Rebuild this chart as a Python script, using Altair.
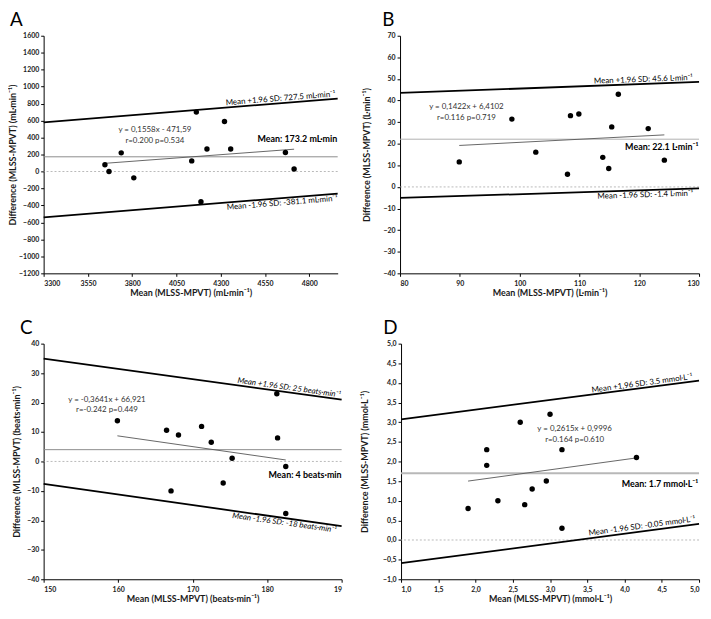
import altair as alt
import pandas as pd

FONT = "Lato"

# ---------------- Panel A : VO2 (mL·min-1) ----------------
A_mean = [3646, 3669, 3738, 3809, 4136, 4162, 4188, 4222, 4321, 4356, 4665, 4714]
A_diff = [80, 0, 220, -75, 125, 700, -355, 265, 590, 265, 225, 30]
A_loa_x = [3300, 4960]
A_upper = [580, 860]
A_lower = [-540, -260]
A_reg_x = [3646, 4714]
A_reg_y = [96.5, 262.9]
A_bias = 173.2
A_xticks = [3300, 3550, 3800, 4050, 4300, 4550, 4800]
A_yticks = list(range(-1200, 1601, 200))

# ---------------- Panel B : VE (L·min-1) ----------------
B_mean = [89.9, 98.7, 102.7, 108.0, 108.5, 109.9, 113.9, 114.9, 115.4, 116.5, 121.5, 124.2]
B_diff = [11.6, 31.4, 16.1, 5.9, 33.0, 33.8, 13.7, 8.5, 27.8, 42.9, 27.0, 12.4]
B_loa_x = [80, 130]
B_upper = [43.5, 48.6]
B_lower = [-5.1, -0.7]
B_reg_x = [89.9, 124.2]
B_reg_y = [19.2, 24.1]
B_bias = 22.1
B_xticks = [80, 90, 100, 110, 120, 130]
B_yticks = list(range(-40, 71, 10))

# ---------------- Panel C : HR (beats·min-1) ----------------
C_mean = [159.9, 166.5, 167.1, 168.1, 171.2, 172.5, 174.1, 175.3, 181.3, 181.4, 182.5, 182.5]
C_diff = [13.8, 10.6, -10.0, 9.0, 11.9, 6.5, -7.3, 1.1, 23.0, 8.0, -1.7, -17.7]
C_loa_x = [150, 190]
C_upper = [34.9, 21.0]
C_lower = [-7.6, -22.0]
C_reg_x = [159.9, 182.5]
C_reg_y = [8.7, 0.5]
C_bias = 4.0
C_xticks = [150, 160, 170, 180, 190]
C_yticks = list(range(-40, 41, 10))

# ---------------- Panel D : lactate (mmol·L-1) ----------------
D_mean = [1.90, 2.15, 2.15, 2.30, 2.60, 2.66, 2.76, 2.95, 3.00, 3.16, 3.16, 4.16]
D_diff = [0.8, 2.3, 1.9, 1.0, 3.0, 0.9, 1.3, 1.5, 3.2, 2.3, 0.3, 2.1]
D_loa_x = [1.0, 5.0]
D_upper = [3.07, 4.06]
D_lower = [-0.59, 0.41]
D_reg_x = [1.9, 4.16]
D_reg_y = [1.50, 2.09]
D_bias = 1.7
D_xticks = [1.0, 1.5, 2.0, 2.5, 3.0, 3.5, 4.0, 4.5, 5.0]
D_yticks = [-1.0, -0.5, 0.0, 0.5, 1.0, 1.5, 2.0, 2.5, 3.0, 3.5, 4.0, 4.5, 5.0]

COMMA = "replace(format(datum.value, '.1f'), '.', ',')"
INT = "format(datum.value, 'd')"


def panel(letter, mean, diff, xdom, ydom, xticks, yticks, unit, loa_x, up, lo,
          reg_x, reg_y, bias, texts, w, h, ytx, ldx, loff,
          xlabel_expr=INT, ylabel_expr=INT, bias_color="#9a9a9a", bias_width=1.0):
    X = alt.X("m:Q", scale=alt.Scale(domain=xdom, nice=False, zero=False),
              axis=alt.Axis(values=xticks, title=f"Mean (MLSS-MPVT) ({unit})",
                            titlePadding=2, labelExpr=xlabel_expr))
    Y = alt.Y("d:Q", scale=alt.Scale(domain=ydom, nice=False, zero=False),
              axis=alt.Axis(values=yticks, title=f"Difference (MLSS-MPVT) ({unit})",
                            titleX=ytx, titleY=h / 2, titleAlign="center",
                            titleBaseline="bottom", titleAngle=270,
                            labelExpr=ylabel_expr))

    zero = alt.Chart(pd.DataFrame({"d": [0]})).mark_rule(
        color="#a8a8a8", strokeWidth=0.8, strokeDash=[2, 2]).encode(y=Y)
    mean_rule = alt.Chart(pd.DataFrame({"d": [bias]})).mark_rule(
        color=bias_color, strokeWidth=bias_width).encode(y=Y)
    reg = alt.Chart(pd.DataFrame({"m": reg_x, "d": reg_y})).mark_line(
        color="#555555", strokeWidth=0.9).encode(x=X, y=Y)
    loa = alt.Chart(pd.DataFrame({"m": loa_x + loa_x, "d": up + lo,
                                  "g": ["u", "u", "l", "l"]})).mark_line(
        color="black", strokeWidth=1.8).encode(x=X, y=Y, detail="g:N")
    pts = alt.Chart(pd.DataFrame({"m": mean, "d": diff})).mark_circle(
        size=30, color="black", opacity=1).encode(x=X, y=Y)

    layers = [zero, mean_rule, reg, loa, pts]
    for t in texts:
        kw = dict(align=t.get("align", "right"), baseline=t.get("baseline", "middle"),
                  fontSize=t.get("size", 8), font=FONT,
                  fontWeight=t.get("weight", "normal"),
                  fontStyle=t.get("style", "normal"),
                  color=t.get("color", "black"), dy=t.get("dy", 0))
        if t.get("angle") is not None:
            kw["angle"] = t["angle"]
        layers.append(alt.Chart(pd.DataFrame({"m": [t["x"]], "d": [t["y"]], "t": [t["text"]]}))
                      .mark_text(**kw).encode(x=X, y=Y, text="t:N"))
    return alt.layer(*layers).properties(
        width=w, height=h,
        title=alt.TitleParams(letter, anchor="start", frame="group", dx=ldx, offset=loff,
                              fontSize=19, font=FONT, fontWeight="normal", color="black"))


A = panel("A", A_mean, A_diff, [3300, 4960], [-1200, 1600], A_xticks, A_yticks, "mL·min⁻¹",
          A_loa_x, A_upper, A_lower, A_reg_x, A_reg_y, A_bias,
          [dict(x=4949, y=862, text="Mean +1.96 SD: 727.5 mL·min⁻¹", baseline="bottom", angle=355.4),
           dict(x=4958, y=-262, text="Mean -1.96 SD: -381.1 mL·min⁻¹", baseline="top", angle=355.3, dy=1),
           dict(x=4958, y=381, text="Mean: 173.2 mL·min", size=9, weight="bold"),
           dict(x=3928, y=489, text="y = 0,1558x - 471,59", align="center", color="#333333"),
           dict(x=3928, y=361, text="r=0.200 p=0.534", align="center", color="#333333")],
          w=297, h=240, ytx=-26, ldx=-34, loff=2, bias_color="#8c8c8c")

B = panel("B", B_mean, B_diff, [80, 130], [-40, 70], B_xticks, B_yticks, "L·min⁻¹",
          B_loa_x, B_upper, B_lower, B_reg_x, B_reg_y, B_bias,
          [dict(x=129.0, y=48.6, text="Mean +1.96 SD: 45.6 L·min⁻¹", baseline="bottom", angle=357.9),
           dict(x=129.0, y=-0.8, text="Mean -1.96 SD: -1.4 L·min⁻¹", baseline="top", angle=358.1, dy=1),
           dict(x=129.9, y=18.4, text="Mean: 22.1 L·min⁻¹", size=9, weight="bold"),
           dict(x=91.1, y=36.8, text="y = 0,1422x + 6,4102", align="center", color="#333333"),
           dict(x=91.1, y=31.8, text="r=0.116 p=0.719", align="center", color="#333333")],
          w=302, h=240, ytx=-29, ldx=-18, loff=2, bias_color="#b0b0b0")

C = panel("C", C_mean, C_diff, [150, 190], [-40, 40], C_xticks, C_yticks, "beats·min⁻¹",
          C_loa_x, C_upper, C_lower, C_reg_x, C_reg_y, C_bias,
          [dict(x=189.8, y=21.1, text="Mean +1.96 SD: 25 beats·min⁻¹", baseline="bottom", angle=8, style="italic"),
           dict(x=189.4, y=-21.8, text="Mean -1.96 SD: -18 beats·min⁻¹", baseline="top", angle=8, style="italic", dy=1),
           dict(x=190.0, y=-4.7, text="Mean: 4 beats·min", size=9, weight="bold"),
           dict(x=158.5, y=20.7, text="y = -0,3641x + 66,921", align="center", color="#333333"),
           dict(x=158.5, y=17.3, text="r=-0.242 p=0.449", align="center", color="#333333")],
          w=301, h=238, ytx=-22, ldx=-24, loff=2, bias_color="#8c8c8c",
          xlabel_expr="datum.value == 190 ? '19' : datum.label")

D = panel("D", D_mean, D_diff, [1.0, 5.0], [-1.0, 5.0], D_xticks, D_yticks, "mmol·L⁻¹",
          D_loa_x, D_upper, D_lower, D_reg_x, D_reg_y, D_bias,
          [dict(x=4.92, y=4.05, text="Mean +1,96 SD: 3.5 mmol·L⁻¹", baseline="bottom", angle=352.3),
           dict(x=4.96, y=0.40, text="Mean -1.96 SD: -0.05 mmol·L⁻¹", baseline="bottom", angle=352.4, dy=-1),
           dict(x=4.99, y=1.42, text="Mean: 1.7 mmol·L⁻¹", size=9, weight="bold"),
           dict(x=3.33, y=2.83, text="y = 0,2615x + 0,9996", align="center", color="#333333"),
           dict(x=3.33, y=2.55, text="r=0.164 p=0.610", align="center", color="#333333")],
          w=301, h=238, ytx=-32, ldx=-18, loff=2, bias_color="#b8b8b8", bias_width=2.2,
          xlabel_expr=COMMA, ylabel_expr=COMMA)

chart = alt.vconcat(
    alt.hconcat(A, B, spacing=21),
    alt.hconcat(C, D, spacing=14),
    spacing=22,
).properties(
    padding=0
).configure_view(
    stroke=None
).configure_axis(
    grid=False, domainColor="black", domainWidth=1, tickColor="black", tickSize=3,
    labelFont=FONT, labelFontSize=7, labelFontWeight="bold", labelColor="#1a1a1a",
    labelPadding=2, titleFont=FONT, titleFontSize=9, titleFontWeight="bold",
    titleColor="#1a1a1a"
).configure_axisX(labelPadding=3)

chart.save("out.html", embed_options={"renderer": "svg", "actions": False})
